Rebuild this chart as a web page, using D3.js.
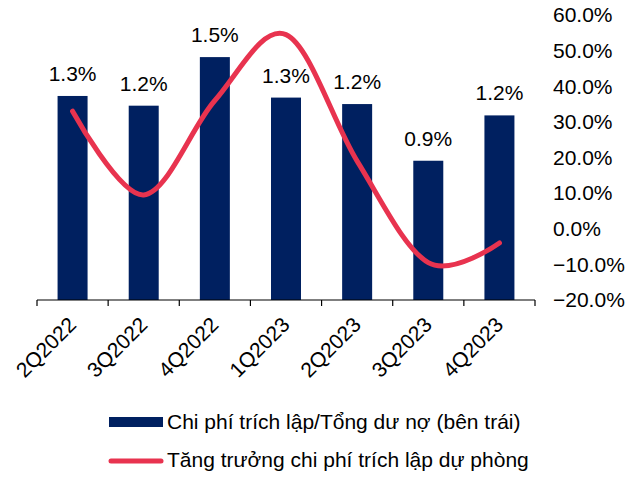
<!DOCTYPE html>
<html>
<head>
<meta charset="utf-8">
<script src="https://cdn.jsdelivr.net/npm/d3@7"></script>
<style>
  body { margin: 0; background: #fff; }
  text { font-family: "Liberation Sans", Arial, sans-serif; fill: #000; }
</style>
</head>
<body>
<svg width="637" height="477"></svg>
<script>
// quarters on the x axis
const quarters = ["2Q2022", "3Q2022", "4Q2022", "1Q2023", "2Q2023", "3Q2023", "4Q2023"];
// provisioning cost / total loans (%), left axis
const ratio = [1.26, 1.20, 1.50, 1.25, 1.21, 0.86, 1.14];
const ratioLabels = ["1.3%", "1.2%", "1.5%", "1.3%", "1.2%", "0.9%", "1.2%"];
// growth of provisioning cost (%), right axis
const growth = [33, 9.5, 36, 54.5, 19, -9.5, -4];
const rightTicks = [-20, -10, 0, 10, 20, 30, 40, 50, 60];

const legendNames = ["Chi phí trích lập/Tổng dư nợ (bên trái)", "Tăng trưởng chi phí trích lập dự phòng"];

var svg = d3.select("svg"),
    plotLeft = 37,
    plotRight = 535,
    plotTop = 15,
    plotBottom = 300,
    fontSize = "21px";

var barColor = "#002060",
    lineColor = "#e8334f";

var x = d3.scaleBand()
    .domain(quarters)
    .range([plotLeft, plotRight]);

var barW = 30;

var yL = d3.scaleLinear().domain([0, 1.76]).range([plotBottom, plotTop]);
var yR = d3.scaleLinear().domain([-20, 60]).range([plotBottom, plotTop]);

function cx(d) { return x(d) + x.bandwidth() / 2; }

// bars
svg.selectAll(".bar")
    .data(quarters)
    .enter().append("rect")
    .attr("class", "bar")
    .attr("x", function(d) { return cx(d) - barW / 2; })
    .attr("width", barW)
    .attr("y", function(d, i) { return yL(ratio[i]); })
    .attr("height", function(d, i) { return plotBottom - yL(ratio[i]); })
    .attr("fill", barColor);

// bar labels
svg.selectAll(".blabel")
    .data(quarters)
    .enter().append("text")
    .attr("class", "blabel")
    .attr("x", cx)
    .attr("y", function(d, i) { return yL(ratio[i]) - 15; })
    .attr("text-anchor", "middle")
    .style("font-size", fontSize)
    .text(function(d, i) { return ratioLabels[i]; });

// x axis line + ticks at band edges
svg.append("line")
    .attr("x1", plotLeft).attr("x2", plotRight)
    .attr("y1", plotBottom).attr("y2", plotBottom)
    .attr("stroke", "#000").attr("stroke-width", 1.2);

var edges = quarters.map(function(d) { return x(d); }).concat([plotRight]);
svg.selectAll(".xtick")
    .data(edges)
    .enter().append("line")
    .attr("x1", function(d) { return d; })
    .attr("x2", function(d) { return d; })
    .attr("y1", plotBottom)
    .attr("y2", plotBottom + 6)
    .attr("stroke", "#000").attr("stroke-width", 1.2);

// rotated category labels
svg.selectAll(".xlabel")
    .data(quarters)
    .enter().append("text")
    .attr("class", "xlabel")
    .attr("text-anchor", "end")
    .attr("transform", function(d) {
        return "translate(" + (cx(d) + 5) + "," + (plotBottom + 26) + ") rotate(-45)";
    })
    .style("font-size", fontSize)
    .text(function(d) { return d; });

// right axis labels
svg.selectAll(".rlabel")
    .data(rightTicks)
    .enter().append("text")
    .attr("class", "rlabel")
    .attr("x", 553)
    .attr("y", function(d) { return yR(d); })
    .attr("dy", "0.35em")
    .style("font-size", fontSize)
    .text(function(d) { return d3.format(".1f")(d) + "%"; });

// growth line, smoothed like Excel
var line = d3.line()
    .x(function(d, i) { return cx(quarters[i]); })
    .y(function(d) { return yR(d); })
    .curve(d3.curveCardinal.tension(0));

svg.append("path")
    .datum(growth)
    .attr("d", line)
    .attr("fill", "none")
    .attr("stroke", lineColor)
    .attr("stroke-width", 5)
    .attr("stroke-linecap", "round");

// legend
var legend = svg.append("g");
legend.append("rect")
    .attr("x", 109).attr("y", 417)
    .attr("width", 54).attr("height", 10)
    .attr("fill", barColor);
legend.append("line")
    .attr("x1", 111).attr("x2", 161)
    .attr("y1", 461).attr("y2", 461)
    .attr("stroke", lineColor)
    .attr("stroke-width", 5)
    .attr("stroke-linecap", "round");
legend.selectAll(".ltext")
    .data(legendNames)
    .enter().append("text")
    .attr("x", 167)
    .attr("y", function(d, i) { return 429 + i * 38; })
    .style("font-size", fontSize)
    .text(function(d) { return d; });
</script>
</body>
</html>
